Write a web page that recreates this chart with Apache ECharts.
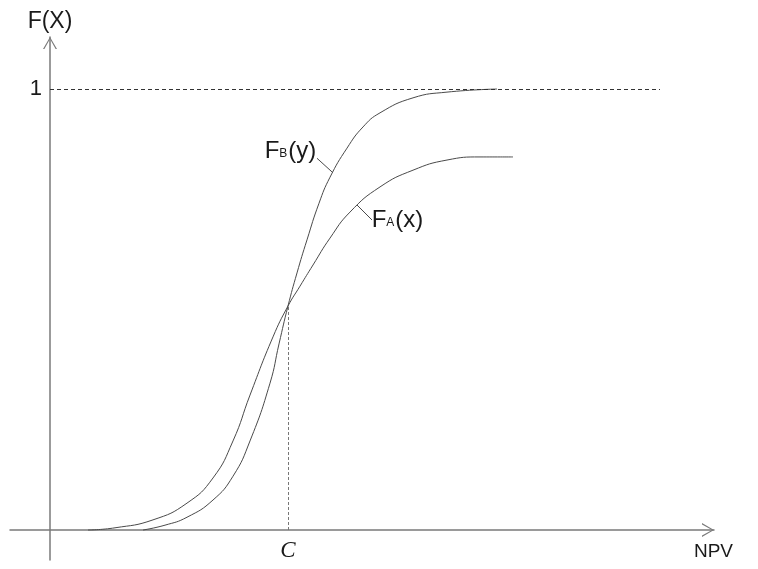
<!DOCTYPE html>
<html>
<head>
<meta charset="utf-8">
<script src="https://cdn.jsdelivr.net/npm/echarts@6/dist/echarts.min.js"></script>
<style>html,body{margin:0;padding:0;background:#fff}#c{width:758px;height:569px}</style>
</head>
<body>
<div id="c"></div>
<script>
// ---- data ----
const faX = [3.8, 6.5, 10.3, 13.7, 16.3, 18.3, 20.0, 22.3, 23.8, 25.0, 26.3, 28.0, 30.0, 33.0, 36.3, 39.7, 43.0, 46.3];
const faY = [0, 0.005, 0.023, 0.061, 0.118, 0.202, 0.306, 0.438, 0.508, 0.553, 0.601, 0.662, 0.721, 0.778, 0.816, 0.839, 0.846, 0.846];
const fbX = [9.3, 11.5, 13.7, 16.3, 18.3, 20.0, 22.0, 22.9, 23.8, 24.7, 25.7, 26.9, 28.0, 29.7, 31.3, 33.0, 36.3, 39.7, 44.7];
const fbY = [0, 0.011, 0.029, 0.068, 0.122, 0.202, 0.333, 0.422, 0.508, 0.583, 0.658, 0.741, 0.800, 0.866, 0.914, 0.946, 0.980, 0.993, 1.0];
const cValue = 23.8;          // NPV where the curves cross
const cLevel = 0.508;         // F at crossing
const oneLevel = 1;           // upper bound of F
const oneLineEnd = 61;        // where the dashed "1" line stops
const xTickValues = [cValue];
const xTickLabels = ['C'];
const yTickValues = [1];
const yTickLabels = ['1'];
const xAxisName = 'NPV';
const yAxisName = 'F(X)';
// annotation anchors (data space)
const fbLabelAt = [24.05, 0.859];
const fbLeader = [[26.7, 0.843], [28.3, 0.81]];
const faLabelAt = [34.75, 0.703];
const faLeader = [[30.7, 0.737], [32.2, 0.703]];

const FONT = 'Liberation Sans';
const TXT = '#1a1a1a';
const AX = '#7a7a7a';
const CURVE = '#4a4a4a';
const chevron = 'path://M0,12 L7,0 L14,12 L12.6,12 L7,2 L1.4,12 Z';

function pairs(xs, ys) { return xs.map((x, i) => [x, ys[i]]); }

const richLbl = {
  m: { fontSize: 24, fontFamily: FONT, color: TXT, lineHeight: 28 },
  s: { fontSize: 12, fontFamily: FONT, color: TXT, lineHeight: 28, padding: [5, 1, 0, 0] }
};

const chart = echarts.init(document.getElementById('c'), null, { renderer: 'canvas' });
chart.setOption({
  animation: false,
  backgroundColor: '#fff',
  grid: { left: 10, right: 44, top: 37, bottom: 9, containLabel: false, outerBoundsMode: 'none' },
  xAxis: {
    type: 'value', min: -4, max: 66.4, position: 'bottom', offset: -30,
    splitLine: { show: false },
    axisTick: { show: false },
    axisLine: { onZero: false, lineStyle: { color: AX, width: 1.5 },
      symbol: ['none', chevron], symbolSize: [14, 12], symbolOffset: [0, -6] },
    axisLabel: { customValues: xTickValues, formatter: v => xTickLabels[xTickValues.indexOf(v)] ?? '',
      fontFamily: 'Liberation Serif', fontStyle: 'italic', fontSize: 23, color: TXT, margin: 9 },
    name: xAxisName, nameLocation: 'end', nameGap: 19,
    nameTextStyle: { fontFamily: FONT, fontSize: 19, color: TXT, align: 'right', verticalAlign: 'top', padding: [12, 0, 0, 0] }
  },
  yAxis: {
    type: 'value', min: -0.068, max: 1.118, position: 'left', offset: -40,
    splitLine: { show: false },
    axisTick: { show: false },
    axisLine: { onZero: false, lineStyle: { color: AX, width: 1.5 },
      symbol: ['none', chevron], symbolSize: [14, 12], symbolOffset: [0, -6] },
    axisLabel: { customValues: yTickValues, formatter: v => yTickLabels[yTickValues.indexOf(v)] ?? '',
      fontFamily: FONT, fontSize: 22, color: TXT, margin: 8 },
    name: yAxisName, nameLocation: 'end', nameGap: 4,
    nameTextStyle: { fontFamily: FONT, fontSize: 23, color: TXT }
  },
  series: [
    {
      name: 'FA', type: 'line', data: pairs(faX, faY), smooth: 0.5, showSymbol: false,
      lineStyle: { color: CURVE, width: 1 },
      markLine: {
        silent: true, symbol: ['none', 'none'], animation: false, label: { show: false },
        data: [
          [{ coord: faLeader[0], lineStyle: { type: 'solid', color: CURVE, width: 1 } }, { coord: faLeader[1] }],
          [{ coord: [0, oneLevel], lineStyle: { type: [4, 3], color: '#333', width: 1 } }, { coord: [oneLineEnd, oneLevel] }],
          [{ coord: [cValue, 0], lineStyle: { type: [3, 2], color: '#777', width: 1 } }, { coord: [cValue, cLevel] }]
        ]
      },
      markPoint: {
        silent: true, symbol: 'rect', symbolSize: 1, itemStyle: { color: 'rgba(0,0,0,0)' },
        label: { show: true, position: 'inside', formatter: '{m|F}{s|A}{m|(x)}', rich: richLbl },
        data: [{ coord: faLabelAt }]
      }
    },
    {
      name: 'FB', type: 'line', data: pairs(fbX, fbY), smooth: 0.5, showSymbol: false,
      lineStyle: { color: CURVE, width: 1 },
      markLine: {
        silent: true, symbol: ['none', 'none'], animation: false, label: { show: false },
        data: [
          [{ coord: fbLeader[0], lineStyle: { type: 'solid', color: CURVE, width: 1 } }, { coord: fbLeader[1] }]
        ]
      },
      markPoint: {
        silent: true, symbol: 'rect', symbolSize: 1, itemStyle: { color: 'rgba(0,0,0,0)' },
        label: { show: true, position: 'inside', formatter: '{m|F}{s|B}{m|(y)}', rich: richLbl },
        data: [{ coord: fbLabelAt }]
      }
    }
  ]
});
</script>
</body>
</html>
